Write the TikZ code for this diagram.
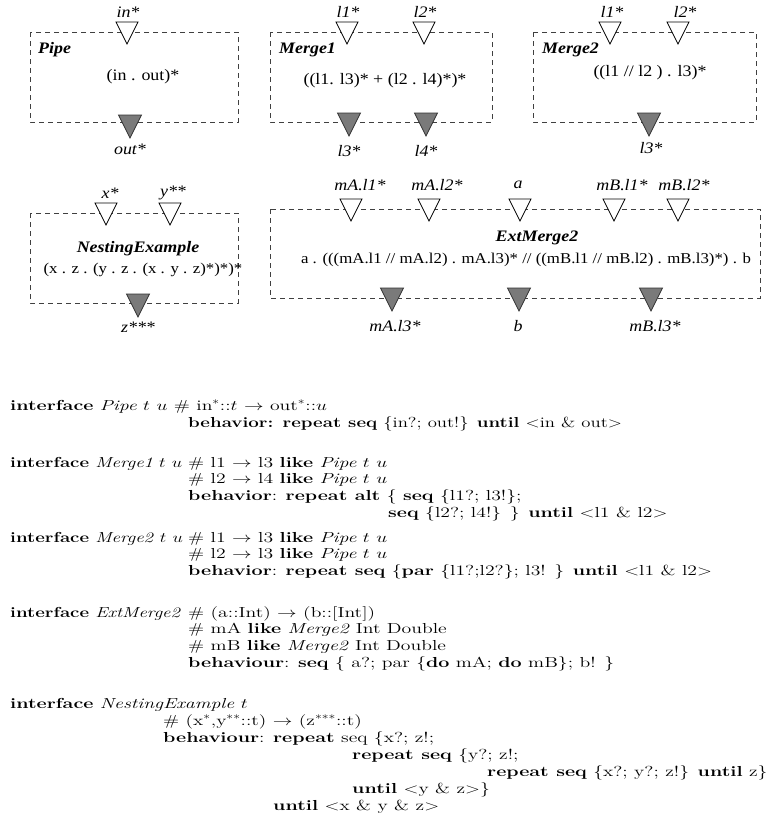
\documentclass[tikz,border=0pt]{standalone}
\usepackage{fontspec}
\usepackage{graphicx}
\newfontfamily\tms{Liberation Serif}
\newcommand\tx[1]{\scalebox{1.12}[1]{#1}}
\newcommand\cx[1]{\scalebox{1.36}[1]{#1}}
\newcommand\cxs[1]{\scalebox{1.29}[1]{#1}}
\newcommand\inp[3]{\draw[inport] (#2-11,#3) -- (#2+11,#3) -- (#2,#3+22) -- cycle; \coordinate (#1) at (#2,#3+11);}
\newcommand\outp[3]{\draw[outport] (#2-11.5,#3) -- (#2+11.5,#3) -- (#2,#3+23) -- cycle; \coordinate (#1) at (#2,#3+11);}
\tikzset{
  box/.style={draw=black!75, dash pattern=on 5pt off 4pt, line width=0.8pt},
  inport/.style={draw=black, fill=white, line width=0.7pt},
  outport/.style={draw=black!80, fill=black!52, line width=0.7pt},
  lab/.style={inner sep=0pt, font={\tms\fontsize{16}{19}\selectfont\itshape}},
  ttl/.style={inner sep=0pt, font={\tms\fontsize{16}{19}\selectfont\bfseries\itshape}},
  frm/.style={inner sep=0pt, font={\tms\fontsize{16}{19}\selectfont}},
  frmb/.style={inner sep=0pt, font={\tms\fontsize{15}{18}\selectfont}},
  code/.style={inner sep=0pt, anchor=base west, font={\fontsize{14.5}{17}\selectfont}},
}
\begin{document}
\begin{tikzpicture}[x=1pt,y=-1pt]
\useasboundingbox (0,0) rectangle (780,839);
% ---------- Pipe
\draw[box] (30,32) rectangle (238,122);
\inp{pipein}{127}{22}
\outp{pipeout}{130}{115}
\node[lab] (lin) at (128,12) {\tx{in*}};
\node[lab] (lout) at (130,149) {\tx{out*}};
\node[ttl,anchor=west] (tpipe) at (38,50) {\tx{Pipe}};
\node[frm] (fpipe) at (143,77) {\tx{(in . out)*}};
% ---------- Merge1
\draw[box] (270,32) rectangle (492,122);
\inp{m1a}{347}{22}
\inp{m1b}{424}{22}
\outp{m1c}{349}{113}
\outp{m1d}{426}{113}
\node[lab] (lm1a) at (348,12) {\tx{l1*}};
\node[lab] (lm1b) at (425,12) {\tx{l2*}};
\node[lab] (lm1c) at (349,151) {\tx{l3*}};
\node[lab] (lm1d) at (426,151) {\tx{l4*}};
\node[ttl,anchor=west] (tm1) at (279,50) {\tx{Merge1}};
\node[frm] (fm1) at (385,81) {\tx{((l1. l3)* + (l2 . l4)*)*}};
% ---------- Merge2
\draw[box] (533,32) rectangle (756,122);
\inp{m2a}{610}{22}
\inp{m2b}{678}{22}
\outp{m2c}{649}{113}
\node[lab] (lm2a) at (612,12) {\tx{l1*}};
\node[lab] (lm2b) at (685,12) {\tx{l2*}};
\node[lab] (lm2c) at (651,148) {\tx{l3*}};
\node[ttl,anchor=west] (tm2) at (542,50) {\tx{Merge2}};
\node[frm] (fm2) at (650,73) {\tx{((l1 //\ l2 ) . l3)*}};
% ---------- NestingExample
\draw[box] (30,213) rectangle (238,303);
\inp{nx}{106}{203}
\inp{ny}{170}{203}
\outp{nz}{138}{294}
\node[lab] (lnx) at (110,193) {\tx{x*}};
\node[lab] (lny) at (173,193) {\tx{y**}};
\node[lab] (lnz) at (138,327) {\tx{z***}};
\node[ttl] (tne) at (138,249) {\tx{NestingExample}};
\node[frmb] (fne) at (143,270) {\tx{(x . z . (y . z . (x . y . z)*)*)*}};
% ---------- ExtMerge2
\draw[box] (270,209) rectangle (760,298);
\inp{ea}{351}{199}
\inp{eb}{429}{199}
\inp{ec}{520}{199}
\inp{ed}{614}{199}
\inp{ee}{678}{199}
\outp{ef}{392}{288}
\outp{eg}{519}{288}
\outp{eh}{651}{288}
\node[lab] (lea) at (360,185) {\tx{mA.l1*}};
\node[lab] (leb) at (437,185) {\tx{mA.l2*}};
\node[lab] (lec) at (518,185) {\tx{a}};
\node[lab] (led) at (622,185) {\tx{mB.l1*}};
\node[lab] (lee) at (684,185) {\tx{mB.l2*}};
\node[lab] (lef) at (395,326) {\tx{mA.l3*}};
\node[lab] (leg) at (518,326) {\tx{b}};
\node[lab] (leh) at (655,326) {\tx{mB.l3*}};
\node[ttl] (tem) at (537,238) {\tx{ExtMerge2}};
\node[frmb] (fem) at (526,260) {\tx{a . (((mA.l1 // mA.l2) . mA.l3)* // ((mB.l1 // mB.l2) . mB.l3)*) . b}};
% ---------- code
\node[code] (c1) at (10,410) {\cx{\textbf{interface} \textit{Pipe} $t$ $u$ \# in$^*$::$t$ $\rightarrow$ out$^*$::$u$}};
\node[code] (c2) at (188,427) {\cxs{\textbf{behavior: repeat seq} \{in?; out!\} \textbf{until} $<$in \& out$>$}};
\node[code] (c3) at (10,467) {\cxs{\textbf{interface} \textit{Merge1} $t$ $u$}};
\node[code] (c3b) at (188,467) {\cx{\# l1 $\rightarrow$ l3 \textbf{like} \textit{Pipe} $t$ $u$}};
\node[code] (c4) at (188,483) {\cx{\# l2 $\rightarrow$ l4 \textbf{like} \textit{Pipe} $t$ $u$}};
\node[code] (c5) at (188,500) {\cx{\textbf{behavior}: \textbf{repeat alt} \{ \textbf{seq} \{l1?; l3!\};}};
\node[code] (c6) at (388,517) {\cx{\textbf{seq} \{l2?; l4!\} \} \textbf{until} $<$l1 \& l2$>$}};
\node[code] (c7) at (10,542) {\cxs{\textbf{interface} \textit{Merge2} $t$ $u$}};
\node[code] (c7b) at (188,542) {\cx{\# l1 $\rightarrow$ l3 \textbf{like} \textit{Pipe} $t$ $u$}};
\node[code] (c8) at (188,558) {\cx{\# l2 $\rightarrow$ l3 \textbf{like} \textit{Pipe} $t$ $u$}};
\node[code] (c9) at (188,575) {\cx{\textbf{behavior}: \textbf{repeat seq} \{\textbf{par} \{l1?;l2?\}; l3! \} \textbf{until} $<$l1 \& l2$>$}};
\node[code] (c10) at (10,617) {\cxs{\textbf{interface} \textit{ExtMerge2}}};
\node[code] (c10b) at (188,617) {\cx{\# (a::Int) $\rightarrow$ (b::[Int])}};
\node[code] (c11) at (188,633) {\cx{\# mA \textbf{like} \textit{Merge2} Int Double}};
\node[code] (c12) at (188,650) {\cx{\# mB \textbf{like} \textit{Merge2} Int Double}};
\node[code] (c13) at (188,667) {\cx{\textbf{behaviour}: \textbf{seq} \{ a?; par \{\textbf{do} mA; \textbf{do} mB\}; b! \}}};
\node[code] (c14) at (10,708) {\cx{\textbf{interface} \textit{NestingExample} $t$}};
\node[code] (c15) at (163,725) {\cx{\# (x$^*$,y$^{**}$::t) $\rightarrow$ (z$^{***}$::t)}};
\node[code] (c16) at (163,742) {\cx{\textbf{behaviour}: \textbf{repeat} seq \{x?; z!;}};
\node[code] (c17) at (352,759) {\cx{\textbf{repeat seq} \{y?; z!;}};
\node[code] (c18) at (487,776) {\cx{\textbf{repeat seq} \{x?; y?; z!\} \textbf{until} z\}}};
\node[code] (c19) at (352,793) {\cx{\textbf{until} $<$y \& z$>$\}}};
\node[code] (c20) at (273,810) {\cx{\textbf{until} $<$x \& y \& z$>$}};
\end{tikzpicture}
\end{document}
